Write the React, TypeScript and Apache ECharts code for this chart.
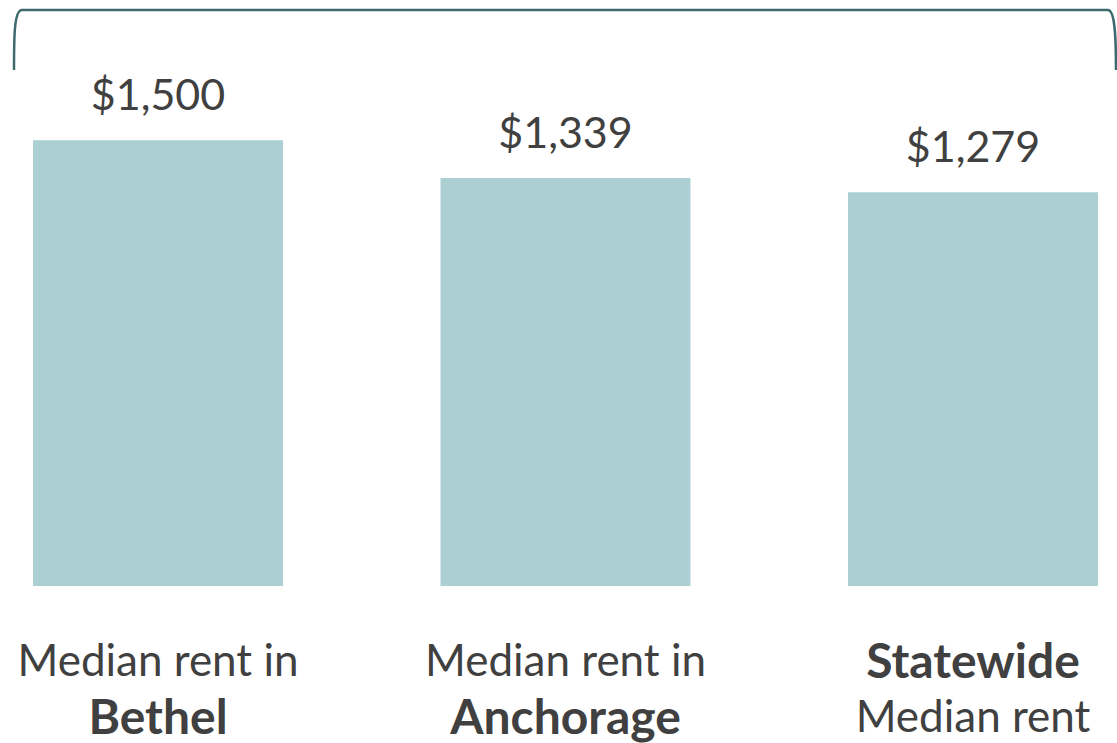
import React, { useEffect, useRef } from "react";
import * as echarts from "echarts";

const categories = ["Bethel", "Anchorage", "Statewide"];
const labelTexts = [
  "Median rent in\n{b|Bethel}",
  "Median rent in\n{b|Anchorage}",
  "{b|Statewide}\nMedian rent",
];
const rentValues = [1500, 1339, 1279];

const AXIS_MIN = -400;
const AXIS_MAX = 2000;

const TEXT = "#404040";
const BAR = "#abcfd3";
const BRACKET = "#3d6a6e";

let registered = false;
function ensureShape() {
  if (registered) return;
  registered = true;
  echarts.graphic.registerShape(
    "bracket",
    echarts.graphic.extendPath(
      "M14,70 C14,38 14,10 22,10 L1108,10 C1115,10 1116,38 1116,70",
      {}
    )
  );
}

export default function App() {
  const ref = useRef<HTMLDivElement>(null);
  useEffect(() => {
    document.body.style.margin = "0";
    ensureShape();
    const chart = echarts.init(ref.current!, undefined, { renderer: "svg" });
    const data = rentValues.map((v, i) => [i, v]);
    chart.setOption({
      animation: false,
      backgroundColor: "#ffffff",
      textStyle: { fontFamily: "Lato" },
      grid: {
        left: 158,
        right: 144,
        top: 23,
        bottom: 157,
        containLabel: false,
        outerBoundsMode: "none",
      },
      xAxis: {
        type: "category",
        data: categories,
        boundaryGap: false,
        axisLine: { show: false },
        axisTick: { show: false },
        splitLine: { show: false },
        axisLabel: {
          interval: 0,
          margin: 45,
          color: TEXT,
          fontSize: 44,
          lineHeight: 56,
          fontFamily: "Lato",
          formatter: (_v: string, i: number) => labelTexts[i],
          rich: {
            b: { fontWeight: "bold", fontSize: 48, lineHeight: 56, color: TEXT, fontFamily: "Lato" },
          },
        },
      },
      yAxis: {
        type: "value",
        min: AXIS_MIN,
        max: AXIS_MAX,
        show: false,
        splitLine: { show: false },
      },
      series: [
        {
          type: "custom",
          data,
          clip: false,
          renderItem: (_params: any, api: any) => {
            const idx = api.value(0);
            const val = api.value(1);
            const top = api.coord([idx, val]);
            const base = api.coord([idx, AXIS_MIN]);
            const w = api.size([1, 0])[0] * 0.6135;
            return {
              type: "group",
              children: [
                {
                  type: "rect",
                  shape: { x: top[0] - w / 2, y: top[1], width: w, height: base[1] - top[1] },
                  style: { fill: BAR },
                },
                {
                  type: "text",
                  x: top[0],
                  y: top[1] - 25,
                  style: {
                    text: "$" + val.toLocaleString("en-US"),
                    fill: TEXT,
                    font: "43px Lato",
                    align: "center",
                    verticalAlign: "bottom",
                  },
                },
              ],
            };
          },
        },
      ],
      graphic: [
        {
          type: "bracket",
          x: 0,
          y: 0,
          silent: true,
          style: { fill: "none", stroke: BRACKET, lineWidth: 2.5 },
        },
      ],
    });
    return () => chart.dispose();
  }, []);
  return <div ref={ref} style={{ width: 1117, height: 743 }} />;
}
